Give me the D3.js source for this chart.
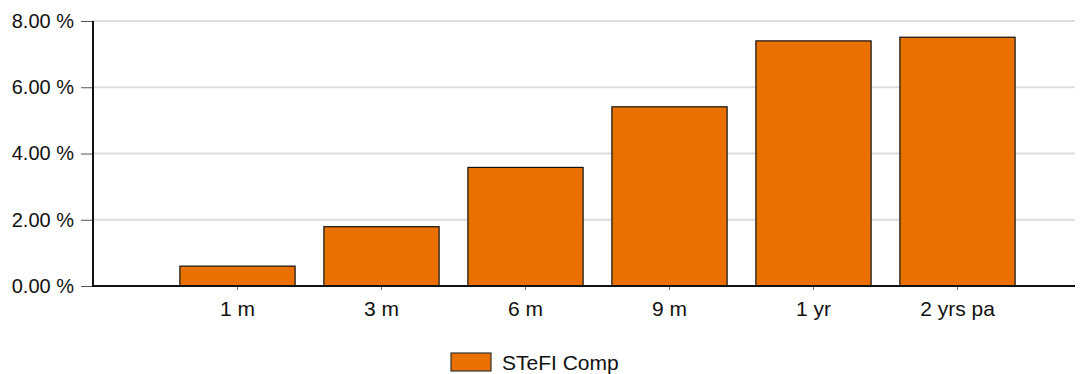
<!DOCTYPE html>
<html>
<head>
<meta charset="utf-8">
<script src="https://cdn.jsdelivr.net/npm/d3@7"></script>
<style>
  html, body { margin: 0; padding: 0; background: #fff; }
  svg { display: block; font-family: "Liberation Sans", Arial, sans-serif; }
</style>
</head>
<body>
<svg id="chart" width="1090" height="374"></svg>
<script>
// Term returns for the STeFI composite index
const categories = ["1 m", "3 m", "6 m", "9 m", "1 yr", "2 yrs pa"];
const values = [0.60, 1.79, 3.58, 5.41, 7.40, 7.51];
const yTicks = [0, 2, 4, 6, 8];
const seriesName = "STeFI Comp";

const svg = d3.select("#chart");
const plotLeft = 92, plotRight = 1075, plotTop = 21, plotBottom = 286;
const barColor = "#ea7000";

const y = d3.scaleLinear().domain([0, 8]).range([plotBottom, plotTop]);
const x = d3.scaleBand().domain(categories)
  .range([165.5, 1029.5]).paddingInner(0.2).paddingOuter(0.1);

// horizontal grid lines
svg.append("g").selectAll("line").data(yTicks.filter(d => d > 0)).join("line")
  .attr("x1", plotLeft).attr("x2", plotRight)
  .attr("y1", d => y(d)).attr("y2", d => y(d))
  .attr("stroke", "#dddddd").attr("stroke-width", 2);

// y axis with percentage labels
const yAxis = d3.axisLeft(y).tickValues(yTicks).tickSize(11).tickPadding(7)
  .tickFormat(d => d3.format(".2f")(d) + " %");
const gy = svg.append("g").attr("transform", `translate(${plotLeft},0)`).call(yAxis);
gy.select(".domain").remove();
gy.selectAll(".tick line").attr("stroke", "#555");
gy.selectAll(".tick text").attr("font-size", 20).attr("fill", "#111")
  .attr("font-family", "Liberation Sans, Arial, sans-serif");

// bars
svg.append("g").selectAll("rect").data(values).join("rect")
  .attr("x", (d, i) => x(categories[i]))
  .attr("width", x.bandwidth())
  .attr("y", d => y(d))
  .attr("height", d => y(0) - y(d))
  .attr("fill", barColor)
  .attr("stroke", "#111").attr("stroke-width", 1.2);

// x axis
const xAxis = d3.axisBottom(x).tickSize(4).tickPadding(11);
const gx = svg.append("g").attr("transform", `translate(0,${plotBottom})`).call(xAxis);
gx.select(".domain").remove();
gx.selectAll(".tick line").attr("stroke", "#777");
gx.selectAll(".tick text").attr("font-size", 21).attr("fill", "#111")
  .attr("font-family", "Liberation Sans, Arial, sans-serif");

// axis lines
svg.append("line").attr("x1", plotLeft).attr("x2", plotRight)
  .attr("y1", plotBottom).attr("y2", plotBottom)
  .attr("stroke", "#111").attr("stroke-width", 2);
svg.append("line").attr("x1", plotLeft + 1).attr("x2", plotLeft + 1)
  .attr("y1", plotTop).attr("y2", plotBottom + 1)
  .attr("stroke", "#111").attr("stroke-width", 2);

// legend
const lg = svg.append("g").attr("transform", "translate(451,353)");
lg.append("rect").attr("width", 40).attr("height", 18)
  .attr("fill", barColor).attr("stroke", "#333").attr("stroke-width", 1.2);
lg.append("text").attr("x", 51).attr("y", 16.5).attr("font-size", 21)
  .attr("fill", "#111").text(seriesName);
</script>
</body>
</html>
